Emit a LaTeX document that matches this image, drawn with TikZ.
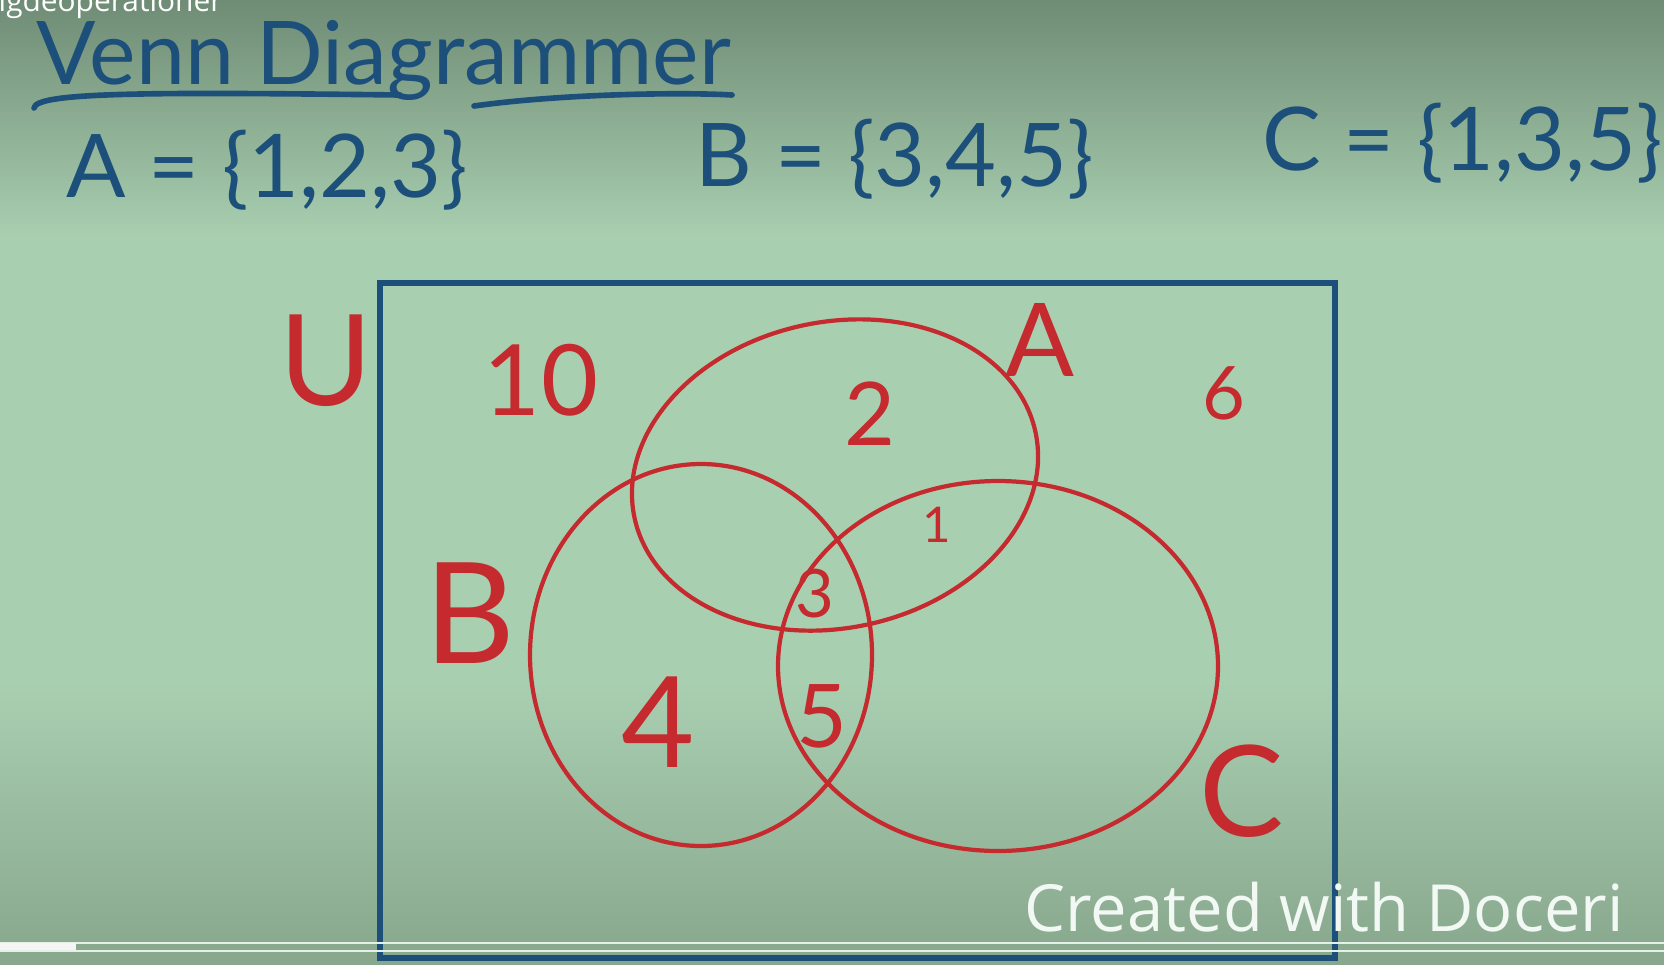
\documentclass[tikz,border=0pt]{standalone}
\usepackage{fontspec}
\setmainfont{Lato}
\setsansfont{Open Sans}
\usetikzlibrary{positioning, shapes.geometric, calc}
\definecolor{board}{HTML}{A9CFB1}
\definecolor{boardtop}{HTML}{6F8C75}
\definecolor{boardbot}{HTML}{88A78D}
\definecolor{penblue}{HTML}{1C4F7A}
\definecolor{penred}{HTML}{C42A2E}
\tikzset{ring/.style={draw=penred, ellipse, line width=1.2pt, inner sep=0pt},
tally/.style={text=penred, inner sep=0pt, font=\fontsize{#1}{#1}\selectfont},
setdef/.style={text=penblue, inner sep=0pt, anchor=west, font=\fontsize{25}{27}\selectfont},
stroke/.style={draw=penblue, line width=1.6pt, line cap=round}}

\begin{document}
\begin{tikzpicture}
  \useasboundingbox (0,0) rectangle (16.64,-9.64);
  \clip (0,0) rectangle (16.64,-9.64);
  % board
  \fill[board] (0,0) rectangle (16.64,-9.64);
  \shade[top color=boardtop, bottom color=board] (0,0) rectangle (16.64,-2.4);
  \shade[top color=board, bottom color=boardbot] (0,-6.8) rectangle (16.64,-9.64);
  \node[font=\sffamily\fontsize{8.5}{9}\selectfont, text=white, anchor=base west, inner sep=0pt] (chapter) at (-0.02,-0.12) {igdeoperationer};
  % title and sets
  \node[text=penblue, anchor=base west, inner sep=0pt, font=\fontsize{25}{27}\selectfont] (title) at (0.36,-0.84) {Venn Diagrammer};
  \draw[stroke] (0.34,-1.08) .. controls (0.36,-0.92) and (1.5,-0.92) .. (4.0,-0.95);
  \draw[stroke] (4.74,-1.06) .. controls (5.6,-0.94) and (6.8,-0.92) .. (7.32,-0.95);
  \node[setdef] (defA) at (0.66,-1.70) {A = \{1,2,3\}};
  \node[setdef] (defB) at (6.95,-1.59) {B = \{3,4,5\}};
  \node[setdef] (defC) at (12.62,-1.43) {C = \{1,3,5\}};
  % universe
  \draw[penblue, line width=1.8pt] (3.80,-2.83) rectangle (13.35,-9.58);
  \node[ring, rotate=12, minimum width=4.1cm, minimum height=3.06cm] (setA) at (8.35,-4.75) {};
  \node[ring, minimum width=3.42cm, minimum height=3.82cm] (setB) at (7.01,-6.55) {};
  \node[ring, minimum width=4.40cm, minimum height=3.70cm] (setC) at (9.98,-6.66) {};
  % labels and elements
  \node[tally=36] (lblU) at (3.26,-3.61) {U};
  \node[tally=40] (lblB) at (4.70,-6.13) {B};
  \node[tally=29] (lblA) at (10.40,-3.40) {A};
  \node[tally=36] (lblC) at (12.42,-7.91) {C};
  \node[tally=28] (n10) at (5.41,-3.80) {10};
  \node[tally=25] (n2) at (8.70,-4.14) {2};
  \node[tally=21] (n6) at (12.24,-3.93) {6};
  \node[tally=14] (n1) at (9.37,-5.25) {1};
  \node[tally=19] (n3) at (8.15,-5.94) {3};
  \node[tally=36] (n4) at (6.58,-7.22) {4};
  \node[tally=25] (n5) at (8.22,-7.16) {5};
  % player overlay
  \node[font=\sffamily\fontsize{18.5}{20}\selectfont, text=white!85!board, anchor=west, inner sep=0pt] (watermark) at (10.24,-9.07) {Created with Doceri};
  \draw[white!70!board, line width=0.4pt] (0,-9.43) -- (16.64,-9.43) (0,-9.51) -- (16.64,-9.51);
  \fill[white!92!gray] (0,-9.43) rectangle (0.76,-9.50);
\end{tikzpicture}
\end{document}
